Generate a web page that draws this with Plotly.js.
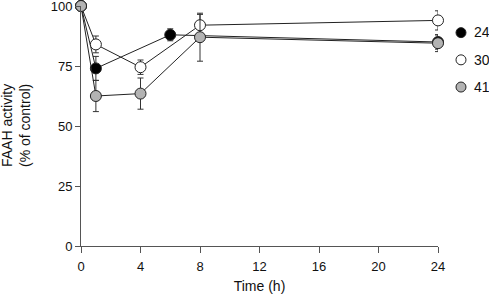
<!DOCTYPE html>
<html><head><meta charset="utf-8">
<script src="https://cdn.plot.ly/plotly-3.0.1.min.js"></script>
<style>html,body{margin:0;padding:0;background:#fff}#c{width:489px;height:297px}</style>
</head><body><div id="c"></div>
<script>
const seriesNames = ["24", "30", "41"];
const x24 = [0, 1, 6, 24];
const y24 = [100, 74, 88, 85];
const e24 = [0, 5, 2.5, 3];
const x30 = [0, 1, 4, 8, 24];
const y30 = [100, 84, 74.5, 92, 94];
const e30 = [0, 3.5, 3, 4.5, 4];
const x41 = [0, 1, 4, 8, 24];
const y41 = [100, 62.5, 63.5, 87, 84.5];
const e41 = [0, 6.5, 6.5, 10, 3.5];
const xTicks = [0, 4, 8, 12, 16, 20, 24];
const yTicks = [0, 25, 50, 75, 100];
const yTitle = 'FAAH activity<br>(% of control)';
const xTitle = 'Time (h)';

const fills = ["#000000", "#ffffff", "#b3b3b3"];
const xs = [x24, x30, x41], ys = [y24, y30, y41], es = [e24, e30, e41];
const traces = [];
for (let i = 0; i < 3; i++) {
  traces.push({
    x: xs[i], y: ys[i], type: 'scatter', mode: 'lines+markers', showlegend: false,
    cliponaxis: false,
    line: {color: '#222', width: 1},
    marker: {size: 11, color: fills[i], line: {color: '#222', width: 1}},
    error_y: {type: 'data', array: es[i], visible: true, color: '#333', thickness: 1, width: 3}
  });
}
for (let i = 0; i < 3; i++) {
  traces.push({
    x: [null], y: [null], type: 'scatter', mode: 'markers', name: ' ',
    legendgroup: 'g' + i,
    marker: {size: 10, color: fills[i], line: {color: '#222', width: 1}}
  });
}
const labelY = [0.8917, 0.775, 0.6625];
const annotations = seriesNames.map((n, i) => ({
  text: n, xref: 'paper', yref: 'paper', x: 1.0952, y: labelY[i],
  xanchor: 'left', yanchor: 'middle', showarrow: false, font: {size: 14, color: '#111'}
}));
annotations.push({
  text: yTitle, xref: 'paper', yref: 'paper', x: -0.182, y: 0.5, textangle: -90,
  xanchor: 'center', yanchor: 'middle', showarrow: false, font: {size: 14, color: '#111'}
});
const layout = {
  width: 489, height: 297,
  margin: {l: 81, r: 51, t: 6, b: 51, autoexpand: false},
  paper_bgcolor: '#fff', plot_bgcolor: '#fff',
  font: {family: 'Liberation Sans, Arial, sans-serif', size: 13, color: '#111'},
  showlegend: true,
  legend: {x: 1.0084, xanchor: 'left', y: 0.954, yanchor: 'top', traceorder: 'grouped',
           tracegroupgap: 6, font: {size: 14}, itemwidth: 30, bgcolor: 'rgba(0,0,0,0)'},
  annotations: annotations,
  xaxis: {range: [0, 24], tickvals: xTicks, ticktext: xTicks.map(String), showgrid: false, zeroline: false,
          showline: true, linecolor: '#555', linewidth: 1, ticks: 'outside', ticklen: 6, tickcolor: '#555',
          ticklabelstandoff: 2,
          tickfont: {size: 13}, title: {text: xTitle, font: {size: 14}, standoff: 8}},
  yaxis: {range: [0, 100], tickvals: yTicks, ticktext: yTicks.map(String), showgrid: false, zeroline: false,
          showline: true, linecolor: '#555', linewidth: 1, ticks: 'outside', ticklen: 5, tickcolor: '#555',
          ticklabeloverflow: 'allow', tickfont: {size: 13}}
};
Plotly.newPlot('c', traces, layout, {displayModeBar: false, staticPlot: true});
</script></body></html>
